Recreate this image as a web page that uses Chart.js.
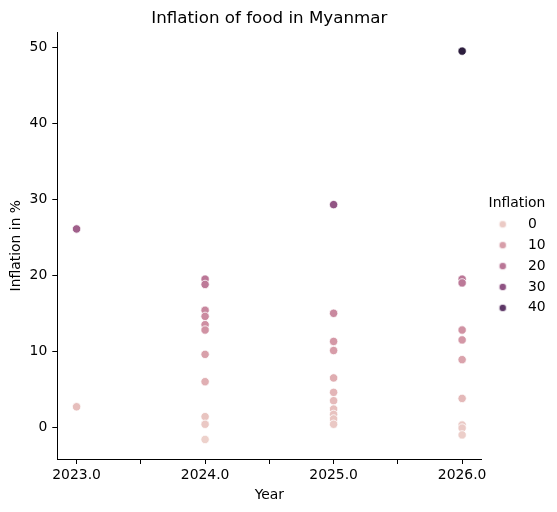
<!DOCTYPE html>
<html><head><meta charset="utf-8">
<script src="https://cdn.jsdelivr.net/npm/chart.js@4.4.0/dist/chart.umd.min.js"></script>
<style>html,body{margin:0;padding:0;background:#fff}#wrap{width:557px;height:512px}</style>
</head><body><div id="wrap"><canvas id="c" width="557" height="512"></canvas></div>
<script>
// ---- data ----
const years = [2023, 2024, 2025, 2026];
const infl2023 = [26.1, 2.7];
const infl2024 = [19.5, 18.8, 15.4, 14.6, 13.5, 12.8, 9.6, 6.0, 1.4, 0.4, -1.6];
const infl2025 = [29.3, 15.0, 11.3, 10.1, 6.5, 4.6, 3.5, 2.4, 1.7, 1.1, 0.4];
const infl2026 = [49.5, 19.5, 19.0, 12.8, 11.5, 8.9, 3.8, 0.3, -0.1, -1.0];
const xTicks = [2023, 2023.5, 2024, 2024.5, 2025, 2025.5, 2026];
const xTickLabels = ['2023.0', '', '2024.0', '', '2025.0', '', '2026.0'];
const yTicks = [0, 10, 20, 30, 40, 50];
const legendValues = [0, 10, 20, 30, 40];

const seriesByYear = [infl2023, infl2024, infl2025, infl2026];
const points = [];
years.forEach((yr, i) => seriesByYear[i].forEach(v => points.push({x: yr, y: v})));
const allVals = points.map(p => p.y);
const vmin = Math.min(...allVals), vmax = Math.max(...allVals);

// seaborn default cubehelix colormap (light=.85, dark=.15, start=0, rot=.4)
function cubehelix(x) {
  const gamma = 1, s = 0, r = 0.4, h = 0.8;
  const xg = Math.pow(x, gamma);
  const a = h * xg * (1 - xg) / 2;
  const phi = 2 * Math.PI * (s / 3 + r * x);
  const c = Math.cos(phi), sn = Math.sin(phi);
  const R = xg + a * (-0.14861 * c + 1.78277 * sn);
  const G = xg + a * (-0.29227 * c - 0.90649 * sn);
  const B = xg + a * (1.97294 * c);
  const cl = v => Math.round(Math.max(0, Math.min(1, v)) * 255);
  return `rgb(${cl(R)},${cl(G)},${cl(B)})`;
}
function hueColor(v) {
  const t = Math.max(0, Math.min(1, (v - vmin) / (vmax - vmin)));
  return cubehelix(0.85 - 0.7 * t);
}
function dotImage(color) {
  const cv = document.createElement('canvas');
  cv.width = 10; cv.height = 10;
  const g = cv.getContext('2d');
  g.beginPath(); g.arc(5, 5, 3.8, 0, Math.PI * 2);
  g.fillStyle = color; g.fill();
  g.lineWidth = 0.8; g.strokeStyle = '#fff'; g.stroke();
  return cv;
}

Chart.defaults.font.family = '"DejaVu Sans", sans-serif';
Chart.defaults.font.size = 13.9;
Chart.defaults.color = '#000';

const layoutTweaks = {
  id: 'layoutTweaks',
  afterLayout(chart) {
    const ca = chart.chartArea;
    const tb = chart.titleBlock;
    if (tb) { tb.left = ca.left; tb.right = ca.right; tb.width = ca.right - ca.left; }
    const lg = chart.legend;
    if (lg) {
      lg.left = 477.35; lg.right = 557; lg.width = 79.3;
      lg.top = 196.35; lg.bottom = 512; lg.height = lg.bottom - lg.top;
    }
  }
};

new Chart(document.getElementById('c'), {
  type: 'scatter',
  data: {
    datasets: [{
      label: 'Inflation',
      data: points,
      backgroundColor: ctx => hueColor(ctx.raw ? ctx.raw.y : 0),
      borderColor: '#ffffff',
      borderWidth: 0.8,
      pointRadius: 4.2,
      pointHoverRadius: 4.2
    }]
  },
  options: {
    responsive: false,
    animation: false,
    layout: { padding: 0 },
    plugins: {
      title: {
        display: true, text: 'Inflation of food in Myanmar', color: '#000',
        font: { size: 16.7, weight: 'normal' }, padding: { top: 9, bottom: 3.3 }
      },
      legend: {
        position: 'right', align: 'start', maxWidth: 75.6,
        title: { display: true, text: 'Inflation', color: '#000', font: { size: 13.9 }, padding: { top: 0, bottom: -2.7 } },
        labels: {
          usePointStyle: true, pointStyleWidth: 36.7, padding: 7, color: '#000',
          generateLabels: () => legendValues.map(v => ({
            text: String(v), fillStyle: hueColor(v), strokeStyle: '#fff', lineWidth: 0,
            pointStyle: dotImage(hueColor(v)), hidden: false, datasetIndex: 0, fontColor: '#000'
          }))
        }
      },
      tooltip: { enabled: false }
    },
    scales: {
      x: {
        type: 'linear', min: 2022.85, max: 2026.15,
        afterBuildTicks: s => { s.ticks = xTicks.map(v => ({ value: v })); },
        afterFit: s => { s.height = 53; },
        ticks: { callback: (v, i) => xTickLabels[i], autoSkip: false, maxRotation: 0, minRotation: 0, padding: 3.5, color: '#000' },
        grid: { display: true, drawOnChartArea: false, drawTicks: true, tickLength: 5, color: '#000', lineWidth: 1 },
        border: { display: true, color: '#000', width: 1 },
        title: { display: true, text: 'Year', color: '#000', padding: { top: 0, bottom: 8.5 } }
      },
      y: {
        type: 'linear', min: -4.17, max: 51.97,
        afterBuildTicks: s => { s.ticks = yTicks.map(v => ({ value: v })); },
        afterFit: s => { s.width = 57.3; },
        ticks: { callback: v => String(v), autoSkip: false, padding: 5, color: '#000' },
        grid: { display: true, drawOnChartArea: false, drawTicks: true, tickLength: 5, color: '#000', lineWidth: 1 },
        border: { display: true, color: '#000', width: 1 },
        title: { display: true, text: 'Inflation in %', color: '#000', padding: { top: 8.2, bottom: 0 } }
      }
    }
  },
  plugins: [layoutTweaks]
});
</script>
</body></html>
